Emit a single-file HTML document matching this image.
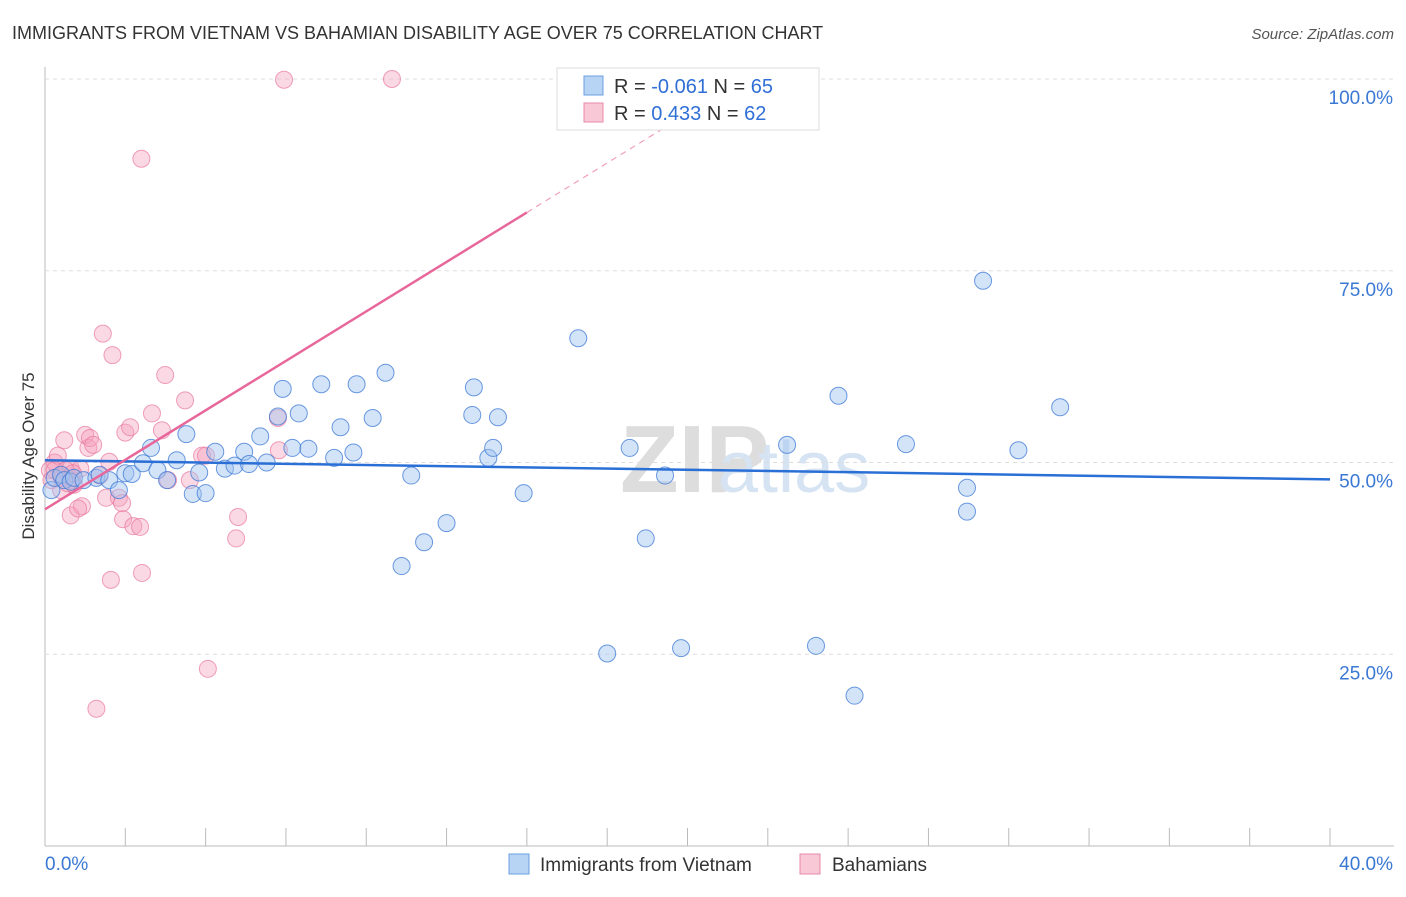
<!DOCTYPE html>
<html><head><meta charset="utf-8"><style>
body{margin:0;background:#fff;font-family:"Liberation Sans",sans-serif;}
svg text{font-family:"Liberation Sans",sans-serif;}
</style></head><body>
<svg id="c" width="1406" height="892" xmlns="http://www.w3.org/2000/svg">
<text x="12" y="39" font-size="18" fill="#333">IMMIGRANTS FROM VIETNAM VS BAHAMIAN DISABILITY AGE OVER 75 CORRELATION CHART</text>
<text x="1394" y="39" font-size="15" fill="#555" font-style="italic" text-anchor="end">Source: ZipAtlas.com</text>
<text x="34" y="456" font-size="17" fill="#333" text-anchor="middle" transform="rotate(-90 34 456)">Disability Age Over 75</text>
<text x="620" y="492" font-size="96" fill="#ddd" font-family="Liberation Serif" font-weight="bold">ZIP</text>
<text x="718" y="492" font-size="72" fill="#d5e3f3">atlas</text>
<g id="grid"></g><g id="marks"></g>
<g>
<rect x="557" y="68" width="262" height="62" fill="#fff" stroke="#ddd"/>
<rect x="584" y="76" width="19" height="19" fill="#b8d4f4" stroke="#6a9fe0"/>
<text x="614" y="93" font-size="20" fill="#333">R = <tspan fill="#2f6fd6">-0.061</tspan>   N = <tspan fill="#2f6fd6">65</tspan></text>
<rect x="584" y="103" width="19" height="19" fill="#f8c8d6" stroke="#e88aa8"/>
<text x="614" y="120" font-size="20" fill="#333">R =  <tspan fill="#2f6fd6">0.433</tspan>   N = <tspan fill="#2f6fd6">62</tspan></text>
</g>
<g>
<rect x="509" y="854" width="20" height="20" fill="#b8d4f4" stroke="#6a9fe0"/>
<text x="540" y="871" font-size="19" fill="#333">Immigrants from Vietnam</text>
<rect x="800" y="854" width="20" height="20" fill="#f8c8d6" stroke="#e88aa8"/>
<text x="832" y="871" font-size="19" fill="#333">Bahamians</text>
</g>
</svg>
<script>
const xTicks=[0,5,10,15,20,25,30,35,40];
const yTicks=[25,50,75,100];
const blueTrend=[50.3,47.8];
const pinkTrend=[43.9,2.58];
const blueX=[0.2,0.3,0.5,0.6,0.8,0.9,1.2,1.6,1.7,2.0,2.3,2.5,2.7,3.05,3.3,3.5,3.8,4.1,4.4,4.6,4.8,5.0,5.3,5.6,5.9,6.2,6.35,6.7,6.9,7.25,7.4,7.7,7.9,8.2,8.6,9.0,9.2,9.6,9.7,10.2,10.6,11.1,11.4,11.8,12.5,13.3,13.35,13.8,13.95,14.1,14.9,16.6,17.5,18.2,18.7,19.3,19.8,23.1,24.0,24.7,25.2,26.8,28.7,28.7,29.2,30.3,31.6];
const blueY=[46.4,48.0,48.4,47.7,47.5,48.0,47.7,48.0,48.4,47.7,46.4,48.6,48.5,49.9,51.9,49.0,47.7,50.3,53.7,45.9,48.7,46.0,51.4,49.2,49.6,51.4,49.8,53.4,50.0,56.0,59.6,51.9,56.4,51.8,60.2,50.6,54.6,51.3,60.2,55.8,61.7,36.5,48.3,39.6,42.1,56.2,59.8,50.6,51.9,55.9,46.0,66.2,25.1,51.9,40.1,48.3,25.8,52.3,26.1,58.7,19.6,52.4,46.7,43.6,73.7,51.6,57.2];
const pinkX=[0.15,0.2,0.3,0.4,0.5,0.6,0.8,0.8,0.85,0.9,1.1,1.15,1.25,1.35,1.4,1.5,1.6,1.7,1.8,1.9,2.0,2.05,2.1,2.3,2.4,2.43,2.5,2.65,2.75,2.96,3.0,3.02,3.33,3.64,3.74,3.83,4.36,4.51,4.89,5.01,5.07,5.95,6.01,7.25,7.28,7.44,10.8,0.5,0.7,1.03,0.3,0.53,0.65,0.87];
const pinkY=[49.0,47.7,50.0,50.9,48.3,52.9,49.2,43.1,47.7,47.1,49.2,44.3,53.6,51.9,53.2,52.3,17.9,48.3,66.8,45.4,50.1,34.7,64.0,45.4,44.7,42.6,53.9,54.6,41.7,41.6,89.6,35.6,56.4,54.2,61.4,47.7,58.1,47.7,50.9,50.9,23.1,40.1,42.9,55.8,51.6,99.9,100.0,46.4,47.3,44.0,49.0,48.0,49.0,48.6];
const L=45,R=1330,T=79,B=846;
const sx=v=>L+(R-L)*v/40, sy=v=>B-(B-T)*v/100;
const NS='http://www.w3.org/2000/svg';
const grid=document.getElementById('grid'), marks=document.getElementById('marks');
function mk(tag,attrs,parent){const e=document.createElementNS(NS,tag);for(const k in attrs)e.setAttribute(k,attrs[k]);parent.appendChild(e);return e;}
let ax=mk('line',{x1:L,y1:67,x2:L,y2:B,stroke:'#bbb'},grid);


let bx=mk('line',{x1:L,y1:B,x2:1394,y2:B,stroke:'#bbb'},grid);


yTicks.forEach(t=>{
 let g=mk('line',{x1:L,y1:sy(t),x2:1394,y2:sy(t),stroke:'#ddd','stroke-dasharray':'4,4'},grid);
 
 
 let tx=mk('text',{x:1393,y:sy(t)+25,'font-size':19,fill:'#3a78d4','text-anchor':'end'},grid);
 tx.textContent=t.toFixed(1)+'%';
 
 
});
xTicks.forEach((t,i)=>{
 let tk=mk('line',{x1:sx(t),y1:B,x2:sx(t),y2:B-18,stroke:'#bbb'},grid);
 
 
 if(i<xTicks.length-1){let h=mk('line',{x1:sx(t+2.5),y1:B,x2:sx(t+2.5),y2:B-18,stroke:'#bbb'},grid);
 
 }
});
[[0,45,'start'],[40,1393,'end']].forEach(([v,x,a])=>{
 let tx=mk('text',{x:x,y:870,'font-size':19,fill:'#3a78d4','text-anchor':a},grid);
 tx.textContent=v.toFixed(1)+'%';
 
 
});
pinkX.forEach((x,i)=>{
 let c=mk('circle',{cx:sx(x),cy:sy(pinkY[i]),r:8.5,fill:'rgba(244,160,188,0.4)',stroke:'rgba(232,120,156,0.7)','stroke-width':1},marks);
 
 
});
blueX.forEach((x,i)=>{
 let c=mk('circle',{cx:sx(x),cy:sy(blueY[i]),r:8.5,fill:'rgba(160,196,240,0.45)',stroke:'rgba(60,120,214,0.75)','stroke-width':1},marks);
 
 
});
let bl=mk('line',{x1:sx(0),y1:sy(blueTrend[0]),x2:sx(40),y2:sy(blueTrend[1]),stroke:'#2a6fd6','stroke-width':2.5},marks);


const pf=x=>pinkTrend[0]+pinkTrend[1]*x;
let pl=mk('line',{x1:sx(0),y1:sy(pf(0)),x2:sx(15),y2:sy(pf(15)),stroke:'#e8679a','stroke-width':2.5},marks);


let pd=mk('line',{x1:sx(15),y1:sy(pf(15)),x2:sx(20.5),y2:sy(pf(20.5)),stroke:'#f0a0bc','stroke-width':1.2,'stroke-dasharray':'6,5'},marks);


</script>
</body></html>
